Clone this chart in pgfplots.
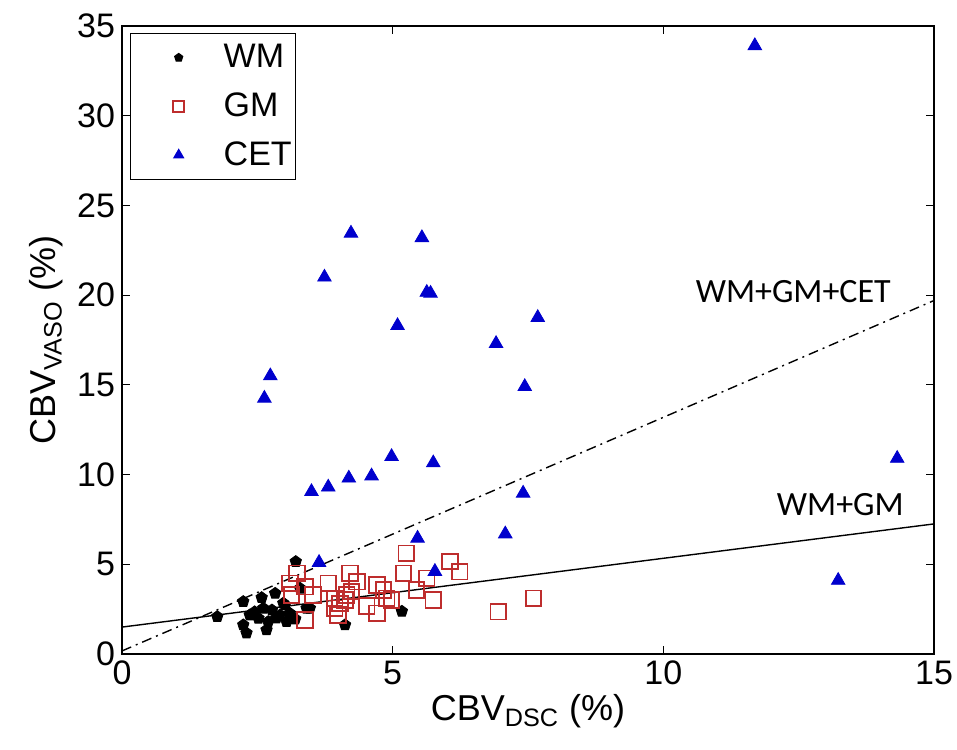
\documentclass[border=0pt]{standalone}
\usepackage{pgfplots}
\pgfplotsset{compat=1.18}
\usepackage{fontspec}
\setmainfont{Liberation Sans}
\newfontfamily\annfont{Carlito}

\definecolor{gmred}{RGB}{190,45,45}
\definecolor{cetblue}{RGB}{0,0,205}

\begin{document}
\begin{tikzpicture}
\begin{axis}[
  name=ax,
  width=406pt, height=314pt,
  scale only axis,
  xmin=0, xmax=15, ymin=0, ymax=35,
  xtick={0,5,10,15},
  ytick={0,5,10,15,20,25,30,35},
  tick align=inside,
  axis line style={line width=0.8pt},
  every tick/.style={black,line width=0.6pt},
  major tick length=4pt,
  tick label style={font=\fontsize{17}{19}\selectfont},
  /pgf/number format/assume math mode=true,
  xlabel={CBV\textsubscript{DSC} (\%)},
  ylabel={CBV\textsubscript{VASO} (\%)},
  label style={font=\fontsize{18}{21}\selectfont},
  xlabel style={yshift=2pt},
  clip=false,
  legend style={at={(0.01,0.989)},anchor=north west,
    font=\fontsize{17}{24}\selectfont, draw=black, line width=0.6pt,
    inner xsep=0pt, inner ysep=3.5pt, row sep=7pt},
  legend cell align=left,
  legend image code/.code={%
    \path[draw=none,fill=none] (0,-1pt) rectangle (44.5pt,1pt);
    \draw[#1,/tikz/every mark/.append style={scale=0.7}] plot coordinates {(24pt,0pt)};},
]
% WM
\addplot[only marks, mark=pentagon*, mark size=3pt, black] coordinates {
 (1.76,2.08) (2.24,2.92) (2.24,1.62) (2.30,1.17) (2.36,2.17) (2.58,3.14)
 (2.61,2.55) (2.52,1.99) (2.70,1.80) (2.67,1.34) (2.83,3.38) (2.92,2.17)
 (3.04,1.80) (3.10,2.27) (3.01,2.73) (2.77,2.45) (3.21,5.15) (3.29,3.66)
 (3.41,2.55) (2.98,2.83) (3.47,2.55) (4.12,1.62) (5.17,2.38) (2.45,2.35)
 (2.85,2.00) (3.20,1.95)
};
% GM
\addplot[only marks, mark=square, mark size=3.9pt, gmred, line width=0.9pt] coordinates {
 (5.25,5.61) (6.06,5.15) (6.24,4.59) (5.20,4.50) (5.63,4.22) (5.44,3.57)
 (5.75,3.01) (6.95,2.36) (7.60,3.10) (3.23,4.50) (3.38,3.75) (3.13,3.29)
 (3.53,3.29) (3.81,3.94) (4.21,4.50) (4.34,4.03) (4.15,3.29) (3.93,3.10)
 (4.03,2.82) (3.93,2.55) (3.99,2.17) (4.71,3.85) (4.83,3.57) (4.89,3.10)
 (4.98,3.01) (4.52,2.68) (4.71,2.27) (3.38,1.90) (3.10,3.94) (4.24,3.48)
 (4.12,3.01)
};
% CET
\addplot[only marks, mark=triangle*, mark size=3.9pt, cetblue] coordinates {
 (11.69,33.9) (4.23,23.45) (5.54,23.2) (3.74,21.0) (5.63,20.15) (5.70,20.1)
 (5.09,18.3) (7.68,18.75) (6.91,17.3) (2.74,15.5) (2.63,14.25) (7.44,14.9)
 (4.98,11.0) (5.75,10.65) (3.50,9.05) (3.81,9.3) (4.19,9.8) (4.61,9.92)
 (7.41,8.96) (7.08,6.69) (5.46,6.45) (3.64,5.1) (5.78,4.6) (14.32,10.9)
 (13.23,4.1)
};
\legend{WM,GM,CET}
% fit lines
\addplot[black, line width=0.7pt, forget plot] coordinates {(0,1.5) (15,7.25)};
\addplot[black, line width=0.7pt, dash pattern=on 5pt off 2.5pt on 1pt off 2.5pt, forget plot] coordinates {(0,0.17) (15,19.7)};
\node[font=\annfont\fontsize{17}{20}\selectfont] at (axis cs:12.4,20.2) {WM+GM+CET};
\node[font=\annfont\fontsize{17}{20}\selectfont] at (axis cs:13.27,8.3) {WM+GM};
\end{axis}
\pgfresetboundingbox
\path[use as bounding box] ([shift={(-61pt,-47.5pt)}]ax.south west) rectangle ([shift={(11.5pt,13pt)}]ax.north east);
\end{tikzpicture}
\end{document}
